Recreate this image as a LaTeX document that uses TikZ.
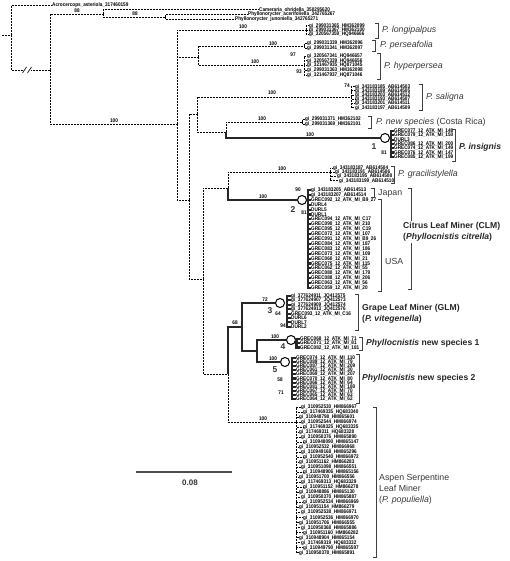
\documentclass[tikz,border=0pt]{standalone}
\usepackage{fontspec}
\setmainfont{Liberation Sans}
\newfontfamily\leaffam[FakeStretch=0.88]{Liberation Sans}
\newcommand{\leaffont}{\leaffam\fontsize{5.3}{5.3}\selectfont\bfseries}
\newcommand{\spfont}{\fontsize{8.8}{11}\selectfont}
\newcommand{\grpfont}{\fontsize{8.6}{10.6}\selectfont\bfseries}
\newcommand{\cnfont}{\fontsize{8.5}{8.5}\selectfont\bfseries}
\newcommand{\clbrk}[3]{\draw[brk] (#1-3,#2) -- (#1,#2) -- (#1,#3) -- (#1-3,#3);}
\tikzset{
  dsh/.style={line width=0.9pt, dash pattern=on 2pt off 1pt},
  thk/.style={line width=2.1pt, draw=black!85},
  leaf/.style={anchor=west, inner sep=0pt, font=\leaffont},
  bs/.style={inner sep=0pt, font=\leaffont},
  spname/.style={anchor=west, inner sep=0pt, font=\spfont, text=black!78, align=left},
  grpname/.style={anchor=west, inner sep=0pt, font=\grpfont, text=black!85, align=left},
  clnode/.style={circle, draw=black, fill=white, line width=1pt, minimum size=9pt, inner sep=0pt},
  cnum/.style={inner sep=0pt, font=\cnfont, text=black!80},
  brk/.style={line width=0.8pt, draw=black!75}
}
\begin{document}
\begin{tikzpicture}[x=1pt, y=-1pt]
\useasboundingbox (0,0) rectangle (510,561);

% outgroups
\coordinate (root) at (2,35);
\coordinate (n0) at (11,35);
\coordinate (n1) at (50,70);
\coordinate (n2) at (103,14);
\coordinate (n3) at (165,17);
\node[leaf] (acro) at (52,5.5) {Acrocercops\_asteriola\_317460159};
\node[leaf] (came) at (259,9.5) {Cameraria\_ohridella\_350295620};
\node[leaf] (acer) at (248,14.5) {Phyllonorycter\_acerifoliella\_342765267};
\node[leaf] (junc) at (235,19.5) {Phyllonorycter\_junoniella\_342765271};
\draw[dsh] (root) -- (n0);
\draw[dsh] (n0) |- (acro);
\draw[dsh] (n0) |- (n1);
\draw[dsh] (n1) |- (n2);
\draw[dsh] (n2) |- (came);
\draw[dsh] (n2) |- (n3);
\draw[dsh] (n3) |- (acer);
\draw[dsh] (n3) |- (junc);
\fill[white] (23,67) rectangle (31,73);
\draw[line width=0.6pt] (22.5,73) -- (26.5,67) (27.5,73) -- (31.5,67);

% Phyllocnistis backbone
\coordinate (phy) at (177,124);
\coordinate (n4) at (198,57);
\coordinate (n5) at (189,200);
\coordinate (n6) at (197,114);
\coordinate (n7) at (203,279);
\coordinate (n8) at (226,132);
\coordinate (n9) at (228,188);
\coordinate (n10) at (228,374);
\coordinate (n11) at (242,327);
\coordinate (n12) at (257,351);
\coordinate (lon) at (306,30);
\coordinate (per) at (304,46);
\coordinate (hyp) at (304,65);
\coordinate (sal) at (351,97);
\coordinate (cr) at (302,122);
\coordinate (gra) at (330,172);
\coordinate (asp) at (296,422);
\node[clnode] (c1) at (385,138) {};
\node[clnode] (c2) at (302,200) {};
\node[clnode] (c3) at (280,303) {};
\node[clnode] (c4) at (291,340) {};
\node[clnode] (c5) at (285,362) {};
\coordinate (c1b) at (391,138);
\coordinate (c2b) at (308,200);
\coordinate (c3b) at (287,303);
\coordinate (c4b) at (296.5,340);
\coordinate (c5b) at (292,362);

\draw[dsh] (n1) |- (phy);
\draw[dsh] (phy) |- (lon);
\draw[dsh] (phy) |- (n4);
\draw[dsh] (phy) |- (n5);
\draw[dsh] (n4) |- (per);
\draw[dsh] (n4) |- (hyp);
\draw[dsh] (n5) |- (n6);
\draw[dsh] (n5) |- (n7);
\draw[dsh] (n6) |- (sal);
\draw[dsh] (n6) |- (n8);
\draw[dsh] (n8) |- (cr);
\draw[thk] (n8) |- (c1);
\draw[dsh] (n7) |- (n9);
\draw[dsh] (n7) |- (n10);
\draw[dsh] (n9) |- (gra);
\draw[thk] (n9) |- (c2);
\draw[thk] (n10) |- (n11);
\draw[dsh] (n10) |- (asp);
\draw[thk] (n11) |- (c3);
\draw[thk] (n11) |- (n12);
\draw[thk] (n12) |- (c4);
\draw[thk] (n12) |- (c5);

% bootstrap values
\foreach \x/\y/\v [count=\k] in {77/11/88, 135/14/88, 114/121/100, 243/27/100, 273/44/100,
  255/62/100, 293/55/97, 299/72/93, 272/93/100, 347/86/74, 262/119/100, 310/135/100,
  384/153/81, 282/169/100, 263/197/100, 298/190/90, 304/213/81, 265/300/72, 278/314/64,
  283/326/94, 235/323/68, 275/337/100, 273/359/100, 280/380/58, 281/393/71, 263/419/100}
  \node[bs] (bs\k) at (\x,\y) {\v};
\foreach \x/\y/\v in {374/147/1, 293/210/2, 270/311/3, 283/347/4, 275/370/5}
  \node[cnum] (num\v) at (\x,\y) {\v};

% P. longipalpus
\foreach \a/\b [count=\i] in {299031365/HM362099, 299031367/HM362100, 320567359/HQ946666}
  {\node[leaf] (lon\i) at (309,{21.6+4.3*\i}) {gi\_\a\_\b}; \draw[dsh] (lon) |- (lon\i);}
\clbrk{378}{23}{38}
\node[spname] (lonlab) at (382,30.5) {\textit{P. longipalpus}};

% P. perseafolia
\foreach \a/\b [count=\i] in {299031339/HM362096, 299031341/HM362097}
  {\node[leaf] (per\i) at (307,{39+4.5*\i}) {gi\_\a\_\b}; \draw[dsh] (per) |- (per\i);}
\clbrk{375}{40}{51}
\node[spname] (perlab) at (380,45.5) {\textit{P. perseafolia}};

% P. hyperpersea
\foreach \a/\b [count=\i] in {320567341/HQ946657, 320567339/HQ946656, 321467935/HQ871045,
  299031363/HM362098, 321467937/HQ871046}
  {\node[leaf] (hyp\i) at (307,{51.2+4.8*\i}) {gi\_\a\_\b}; \draw[dsh] (hyp) |- (hyp\i);}
\clbrk{380}{53}{79}
\node[spname] (hyplab) at (384,66) {\textit{P. hyperpersea}};

% P. saligna
\foreach \a/\b [count=\i] in {343183185/AB614503, 343183189/AB614505, 343183203/AB614512,
  343183193/AB614507, 343183201/AB614511, 343183197/AB614509}
  {\node[leaf] (sal\i) at (355,{82.5+4.2*\i}) {gi\_\a\_\b}; \draw[dsh] (sal) |- (sal\i);}
\clbrk{422}{84}{110}
\node[spname] (sallab) at (426,97) {\textit{P. saligna}};

% P. new species (Costa Rica)
\foreach \a/\b [count=\i] in {299031371/HM362102, 299031369/HM362101}
  {\node[leaf] (cr\i) at (305,{114.5+5*\i}) {gi\_\a\_\b}; \draw[dsh] (cr) |- (cr\i);}
\clbrk{371}{116}{128}
\node[spname] (crlab) at (376,122) {\textit{P. new species} (Costa Rica)};

% P. insignis
\foreach \t [count=\i] in {GREC077\_12\_ATK\_MI\_148, GREC079\_12\_ATK\_MI\_150, DURL3,
  GREC086\_12\_ATK\_MI\_200, GREC074\_12\_ATK\_MI\_149, GREC076\_12\_ATK\_MI\_147,
  GREC085\_12\_ATK\_MI\_199}
  {\node[leaf] (ins\i) at (394,{126.7+4.3*\i}) {\t}; \draw[thk] (c1b) |- (ins\i);}
\clbrk{455}{129}{161}
\node[grpname] (inslab) at (459,147.5) {\textit{P. insignis}};

% P. gracilistylella
\foreach \a/\b [count=\i] in {343183187/AB614504, 343183191/AB614506, 343183195/AB614508,
  343183199/AB614510}
  {\node[leaf] (gra\i) at ({331+2*\i},{164+4.2*\i}) {gi\_\a\_\b}; \draw[dsh] (gra) |- (gra\i);}
\clbrk{394}{166}{183}
\node[spname] (gralab) at (398,174.5) {\textit{P. gracilistylella}};

% citrus leaf miner
\foreach \t [count=\i] in {gi\_343183205\_AB614513, gi\_343183207\_AB614514,
  GREC092\_12\_ATK\_MI\_B9\_27, DURL4, DURL5, DURL1, GREC094\_12\_ATK\_MI\_C17,
  GREC090\_12\_ATK\_MI\_210, GREC095\_12\_ATK\_MI\_C19, GREC072\_12\_ATK\_MI\_107,
  GREC091\_12\_ATK\_MI\_B9\_26, GREC084\_12\_ATK\_MI\_187, GREC083\_12\_ATK\_MI\_186,
  GREC073\_12\_ATK\_MI\_109, GREC060\_12\_ATK\_MI\_21, GREC075\_12\_ATK\_MI\_115,
  GREC062\_12\_ATK\_MI\_55, GREC080\_12\_ATK\_MI\_179, GREC088\_12\_ATK\_MI\_206,
  GREC063\_12\_ATK\_MI\_56, GREC059\_12\_ATK\_MI\_20}
  {\node[leaf] (clm\i) at (311,{185.1+4.9*\i}) {\t}; \draw[thk] (c2b) |- (clm\i);}
\clbrk{374}{188}{197}
\node[spname] (japlab) at (378,193) {Japan};
\clbrk{381}{199}{291}
\node[spname] (usalab) at (385,261) {USA};
\clbrk{411}{188}{289}
\node[grpname, fill=white, inner ysep=1.5pt] (clmlab) at (403,232) {Citrus Leaf Miner (CLM)\\(\textit{Phyllocnistis citrella})};

% grape leaf miner
\foreach \t [count=\i] in {gi\_377624911\_JQ412575, gi\_377624907\_JQ412573,
  gi\_377624909\_JQ412574, gi\_377624913\_JQ412576, GREC093\_12\_ATK\_MI\_C16,
  DURL6, DURL7, DURL2}
  {\node[leaf] (glm\i) at (291,{291.6+4.4*\i}) {\t}; \draw[thk] (c3b) |- (glm\i);}
\clbrk{358}{294}{330}
\node[grpname] (glmlab) at (362,313.5) {Grape Leaf Miner (GLM)\\(\textit{P. vitegenella})};

% new species 1
\foreach \t [count=\i] in {GREC068\_12\_ATK\_MI\_71, GREC071\_12\_ATK\_MI\_81,
  GREC082\_12\_ATK\_MI\_181}
  {\node[leaf] (nsa\i) at (300,{334.6+4.3*\i}) {\t}; \draw[thk] (c4b) |- (nsa\i);}
\clbrk{362}{337}{350}
\node[grpname] (nsalab) at (366,343.5) {\textit{Phyllocnistis} new species 1};

% new species 2
\foreach \t [count=\i] in {GREC074\_12\_ATK\_MI\_110, GREC089\_12\_ATK\_MI\_79,
  GREC087\_12\_ATK\_MI\_209, GREC061\_12\_ATK\_MI\_30, GREC069\_12\_ATK\_MI\_207,
  GREC070\_12\_ATK\_MI\_80, GREC066\_12\_ATK\_MI\_64, GREC081\_12\_ATK\_MI\_180,
  GREC067\_12\_ATK\_MI\_70, GREC065\_12\_ATK\_MI\_63, GREC064\_12\_ATK\_MI\_62}
  {\node[leaf] (nsb\i) at (296,{353.9+4.1*\i}) {\t}; \draw[thk] (c5b) |- (nsb\i);}
\clbrk{359}{354}{403}
\node[grpname] (nsblab) at (362,378) {\textit{Phyllocnistis} new species 2};

% aspen serpentine leaf miner
\foreach \a/\b [count=\i] in {310952530/HM866967, 317469335/HQ683340, 310948798/HM865601,
  310952544/HM866974, 317469325/HQ683335, 317469311/HQ683328, 310950376/HM865890,
  310948090/HM865147, 310952532/HM866968, 310949168/HM865296, 310952540/HM866972,
  310951162/HM866283, 310951098/HM866551, 310948906/HM865156, 310951700/HM866556,
  317469313/HQ683329, 310951152/HM866278, 310948886/HM865130, 310950370/HM865887,
  310952534/HM866969, 310951154/HM866279, 310952538/HM866971, 310952536/HM866970,
  310951706/HM866555, 310950368/HM865886, 310951160/HM866282, 310948904/HM865154,
  317469319/HQ683332, 310949790/HM865597, 310950378/HM865891}
  {\node[leaf] (asp\i) at ({299+2*mod(\i,3)},{401.97+5.03*\i}) {gi\_\a\_\b}; \draw[dsh] (asp) |- (asp\i);}
\clbrk{376}{407}{557}
\node[spname] (asplab) at (379,489) {Aspen Serpentine\\Leaf Miner\\(\textit{P. populiella})};

% scale bar
\coordinate (sba) at (136,472);
\coordinate (sbb) at (232,472);
\draw[line width=1.3pt, black!70] (sba) -- (sbb);
\node[inner sep=0pt, font=\fontsize{8}{8}\selectfont\bfseries, text=black!80] (sblab) at (190,483) {0.08};
\end{tikzpicture}
\end{document}
